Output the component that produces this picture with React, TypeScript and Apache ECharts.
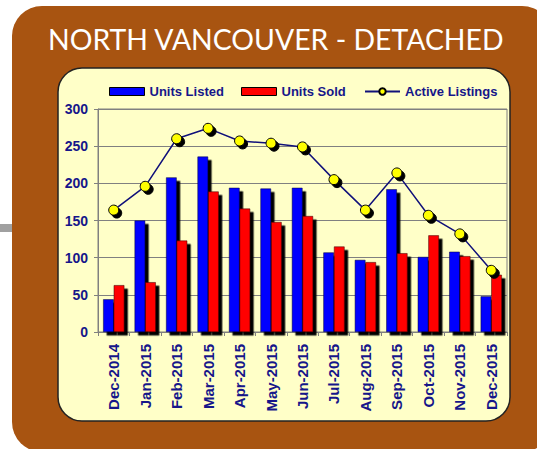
import React, { useEffect, useRef } from "react";
import * as echarts from "echarts";

const categories = [
  "Dec-2014", "Jan-2015", "Feb-2015", "Mar-2015", "Apr-2015", "May-2015", "Jun-2015",
  "Jul-2015", "Aug-2015", "Sep-2015", "Oct-2015", "Nov-2015", "Dec-2015",
];
const unitsListed = [44, 150, 208, 236, 194, 193, 194, 107, 97, 192, 101, 108, 48];
const unitsSold = [63, 67, 123, 189, 166, 148, 156, 115, 94, 106, 130, 102, 77];
const activeListings = [164, 196, 260, 274, 257, 254, 249, 205, 164, 214, 157, 132, 83];
const yTicks = { min: 0, max: 300, interval: 50 };
const legendNames = ["Units Listed", "Units Sold", "Active Listings"];

const TITLE = "NORTH VANCOUVER - DETACHED";
const NAVY = "#16168a";
const ARIAL = "'Liberation Sans', Arial, sans-serif";

export default function App() {
  const ref = useRef<HTMLDivElement>(null);
  useEffect(() => {
    if (!ref.current) return;
    const chart = echarts.init(ref.current, null, { renderer: "svg" });
    const legendText = { color: NAVY, fontFamily: ARIAL, fontWeight: "bold", fontSize: 13 };
    const legendLefts = [104, 236, 359];
    chart.setOption({
      animation: false,
      backgroundColor: "#ffffff",
      graphic: [
        {
          type: "rect",
          z: -10,
          shape: { x: 12, y: 6, width: 540, height: 446, r: 30 },
          style: { fill: "#a85411" },
        },
        {
          type: "rect",
          z: -10,
          shape: { x: 0, y: 224, width: 12, height: 8 },
          style: { fill: "#a0a0a0" },
        },
        {
          type: "text",
          z: 5,
          x: 48,
          y: 25,
          style: {
            text: TITLE,
            fill: "#ffffff",
            font: "28.4px Lato, 'Open Sans', sans-serif",
          },
        },
        {
          type: "rect",
          z: -5,
          shape: { x: 58, y: 68, width: 452, height: 353, r: 24 },
          style: { fill: "#ffffc8", stroke: "#222222", lineWidth: 1.5 },
        },
      ],
      legend: legendNames.map((name, i) => ({
        top: 80,
        left: legendLefts[i],
        itemWidth: 35,
        itemHeight: 8,
        textStyle: legendText,
        data: [
          i < 2
            ? {
                name,
                icon: "rect",
                itemStyle: { borderColor: "#000", borderWidth: 1, shadowOffsetX: 0, shadowOffsetY: 0 },
              }
            : { name, itemStyle: { shadowOffsetX: 0, shadowOffsetY: 0 } },
        ],
      })),
      grid: {
        left: 98,
        top: 109,
        right: 30,
        bottom: 117,
        show: true,
        borderColor: "#808080",
        borderWidth: 1,
        backgroundColor: "transparent",
      },
      xAxis: {
        type: "category",
        data: categories,
        axisLine: { lineStyle: { color: "#808080", width: 1 } },
        axisTick: { show: true, length: 4, lineStyle: { color: "#808080" } },
        axisLabel: {
          rotate: 90,
          margin: 12,
          color: NAVY,
          fontFamily: ARIAL,
          fontWeight: "bold",
          fontSize: 15,
          interval: 0,
        },
      },
      yAxis: {
        type: "value",
        min: yTicks.min,
        max: yTicks.max,
        interval: yTicks.interval,
        axisLine: { show: true, lineStyle: { color: "#808080", width: 1 } },
        axisTick: { show: true, length: 4, lineStyle: { color: "#808080" } },
        splitLine: { lineStyle: { color: "#808080", width: 1 } },
        axisLabel: {
          margin: 10,
          color: NAVY,
          fontFamily: ARIAL,
          fontWeight: "bold",
          fontSize: 14,
        },
      },
      series: [
        {
          name: "Units Listed",
          type: "bar",
          data: unitsListed,
          barWidth: 10.6,
          barGap: "0%",
          itemStyle: {
            color: "#0000ff",
            borderColor: "#000033",
            borderWidth: 0.5,
            shadowColor: "#000000",
            shadowBlur: 0,
            shadowOffsetX: 3.5,
            shadowOffsetY: 3.5,
          },
        },
        {
          name: "Units Sold",
          type: "bar",
          data: unitsSold,
          barWidth: 10.6,
          barGap: "0%",
          itemStyle: {
            color: "#ff0000",
            borderColor: "#330000",
            borderWidth: 0.5,
            shadowColor: "#000000",
            shadowBlur: 0,
            shadowOffsetX: 3.5,
            shadowOffsetY: 3.5,
          },
        },
        {
          name: "Active Listings",
          type: "line",
          data: activeListings,
          symbol: "circle",
          symbolSize: 10,
          z: 5,
          lineStyle: { color: "#10107a", width: 1.5 },
          itemStyle: {
            color: "#ffff00",
            borderColor: "#000000",
            borderWidth: 1,
            shadowColor: "#000000",
            shadowBlur: 0,
            shadowOffsetX: 3,
            shadowOffsetY: 3,
          },
        },
      ],
    });
    return () => chart.dispose();
  }, []);
  return <div ref={ref} style={{ width: 537, height: 449, position: "absolute", left: 0, top: 0 }} />;
}
